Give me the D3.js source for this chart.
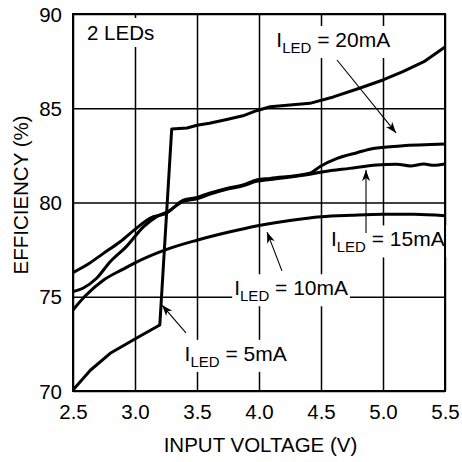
<!DOCTYPE html>
<html>

<head>
  <meta charset="utf-8">
  <title>Efficiency vs input voltage, 2 LEDs</title>
  <script src="https://cdn.jsdelivr.net/npm/d3@7/dist/d3.min.js"></script>
  <style>
    body { margin: 0; background: #fff; }
    svg { font-family: 'Liberation Sans', Arial, sans-serif; }
  </style>
</head>

<body>
<svg id="chart" width="462" height="462"></svg>

<script>
  // axis ticks
  var xTicks = [2.5, 3.0, 3.5, 4.0, 4.5, 5.0, 5.5];
  var yTicks = [70, 75, 80, 85, 90];

  // input voltage (V) / efficiency (%)
  var v5 = [2.5, 2.64, 2.8, 3.01, 3.2, 3.296, 3.42, 3.5, 3.6, 3.74, 3.87, 3.98, 4.09, 4.41, 4.6, 4.81, 5.0, 5.16, 5.33, 5.5];
  var e5 = [70.05, 71.1, 72.0, 72.8, 73.5, 83.9, 83.95, 84.1, 84.2, 84.4, 84.6, 84.87, 85.08, 85.26, 85.6, 86.06, 86.5, 86.94, 87.47, 88.25];

  var v10 = [2.5, 2.6, 2.75, 2.9, 3.0, 3.25, 3.5, 3.75, 4.0, 4.25, 4.5, 4.75, 5.0, 5.25, 5.5];
  var e10 = [74.3, 75.05, 75.9, 76.45, 76.8, 77.5, 78.0, 78.42, 78.78, 79.05, 79.25, 79.33, 79.38, 79.38, 79.3];

  var v15 = [2.5, 2.58, 2.69, 2.8, 2.93, 3.07, 3.175, 3.26, 3.39, 3.5, 3.6, 3.74, 3.87, 3.98, 4.09, 4.41, 4.52, 4.73, 4.95, 5.11, 5.22, 5.33, 5.41, 5.5];
  var e15 = [75.27, 75.45, 75.98, 76.86, 77.66, 78.72, 79.25, 79.5, 80.06, 80.2, 80.43, 80.7, 80.88, 81.12, 81.22, 81.5, 81.63, 81.81, 81.99, 82.03, 81.94, 82.04, 81.97, 82.04];

  var v20 = [2.5, 2.61, 2.745, 2.88, 3.01, 3.12, 3.26, 3.39, 3.5, 3.6, 3.74, 3.87, 3.98, 4.09, 4.41, 4.49, 4.63, 4.79, 4.92, 5.14, 5.5];
  var e20 = [76.28, 76.68, 77.3, 77.92, 78.63, 79.16, 79.46, 80.13, 80.27, 80.49, 80.75, 80.93, 81.19, 81.28, 81.55, 81.9, 82.34, 82.64, 82.87, 83.0, 83.1];

  // 5mA has a sharp step, keep it piecewise straight
  var series = [
    { v: v5, e: e5, curve: d3.curveLinear },
    { v: v10, e: e10, curve: d3.curveMonotoneX },
    { v: v15, e: e15, curve: d3.curveMonotoneX },
    { v: v20, e: e20, curve: d3.curveMonotoneX }
  ];

  // annotation labels and arrows, in data units
  var labels = [
    { cur: '20mA', v: 4.14, e: 88.25, from: [4.629, 87.56], to: [5.105, 83.69] },
    { cur: '15mA', v: 4.58, e: 77.67, from: [4.863, 78.38], to: [4.863, 81.72] },
    { cur: '10mA', v: 3.80, e: 75.08, from: [4.185, 76.37], to: [4.065, 78.43] },
    { cur: '5mA',  v: 3.40, e: 71.6,  from: [3.411, 73.08], to: [3.218, 74.56] }
  ];

  var margin = { top: 14, right: 17, bottom: 71, left: 73 };
  var svg = d3.select('#chart');
  var width = 462 - margin.left - margin.right;
  var height = 462 - margin.top - margin.bottom;

  var x = d3.scaleLinear().domain([2.5, 5.5]).range([0, width]);
  var y = d3.scaleLinear().domain([70, 90]).range([height, 0]);

  var g = svg.append('g').attr('transform', 'translate(' + margin.left + ',' + margin.top + ')');

  // grid
  g.append('g')
    .attr('transform', 'translate(0,' + height + ')')
    .call(d3.axisBottom(x).tickValues(xTicks).tickSize(-height).tickFormat(''))
    .call(a => a.select('.domain').remove())
    .selectAll('line').attr('stroke', '#000').attr('stroke-width', 1.5);

  g.append('g')
    .call(d3.axisLeft(y).tickValues(yTicks).tickSize(-width).tickFormat(''))
    .call(a => a.select('.domain').remove())
    .selectAll('line').attr('stroke', '#000').attr('stroke-width', 1.5);

  // tick labels
  g.append('g')
    .attr('transform', 'translate(0,' + height + ')')
    .call(d3.axisBottom(x).tickValues(xTicks).tickSize(0).tickPadding(13.5).tickFormat(d3.format('.1f')))
    .call(a => a.select('.domain').remove())
    .selectAll('text').attr('font-size', 20.5).attr('fill', '#000').attr('font-family', null);

  g.append('g')
    .call(d3.axisLeft(y).tickValues(yTicks).tickSize(0).tickPadding(11))
    .call(a => a.select('.domain').remove())
    .selectAll('text').attr('font-size', 20.5).attr('fill', '#000').attr('font-family', null)
    .attr('dy', '0.35em');

  // text with white boxes behind it, over the grid
  var boxLayer = g.append('g');
  var textLayer = g.append('g');

  function addBox(t, pad) {
    var b = t.node().getBBox();
    boxLayer.append('rect')
      .attr('x', b.x - pad).attr('y', b.y - pad)
      .attr('width', b.width + 2 * pad).attr('height', b.height + 2 * pad)
      .attr('fill', '#fff');
  }

  var ledText = textLayer.append('text')
    .attr('x', x(2.613)).attr('y', y(88.62))
    .attr('font-size', 20.5)
    .text('2 LEDs');
  addBox(ledText, 3);

  labels.forEach(d => {
    var t = textLayer.append('text')
      .attr('x', x(d.v)).attr('y', y(d.e))
      .attr('font-size', 21);
    t.append('tspan').text('I');
    t.append('tspan').attr('dy', 6).attr('font-size', 15).text('LED');
    t.append('tspan').attr('dy', -6).text(' = ' + d.cur);
    addBox(t, 2);
  });

  // curves
  g.append('g').selectAll('path')
    .data(series)
    .join('path')
    .attr('d', s => d3.line()
      .x(d => x(d[0]))
      .y(d => y(d[1]))
      .curve(s.curve)(d3.zip(s.v, s.e)))
    .attr('fill', 'none')
    .attr('stroke', '#000')
    .attr('stroke-width', 3)
    .attr('stroke-linejoin', 'round');

  // arrows
  svg.append('defs').append('marker')
    .attr('id', 'head')
    .attr('markerUnits', 'userSpaceOnUse')
    .attr('markerWidth', 12).attr('markerHeight', 10)
    .attr('refX', 11).attr('refY', 4)
    .attr('orient', 'auto')
    .append('path')
    .attr('d', 'M0,0 L11,4 L0,8 L3,4 Z')
    .attr('fill', '#000');

  g.append('g').selectAll('line')
    .data(labels)
    .join('line')
    .attr('x1', d => x(d.from[0])).attr('y1', d => y(d.from[1]))
    .attr('x2', d => x(d.to[0])).attr('y2', d => y(d.to[1]))
    .attr('stroke', '#000')
    .attr('stroke-width', 1.1)
    .attr('marker-end', 'url(#head)');

  // frame
  g.append('rect')
    .attr('width', width).attr('height', height)
    .attr('fill', 'none').attr('stroke', '#000').attr('stroke-width', 2);

  // axis titles
  svg.append('text')
    .attr('x', 260.5).attr('y', 451.7)
    .attr('text-anchor', 'middle')
    .attr('font-size', 20.5)
    .text('INPUT VOLTAGE (V)');

  svg.append('text')
    .attr('transform', 'translate(27.5,195) rotate(-90)')
    .attr('text-anchor', 'middle')
    .attr('font-size', 20.5)
    .text('EFFICIENCY (%)');
</script>

</body>

</html>
